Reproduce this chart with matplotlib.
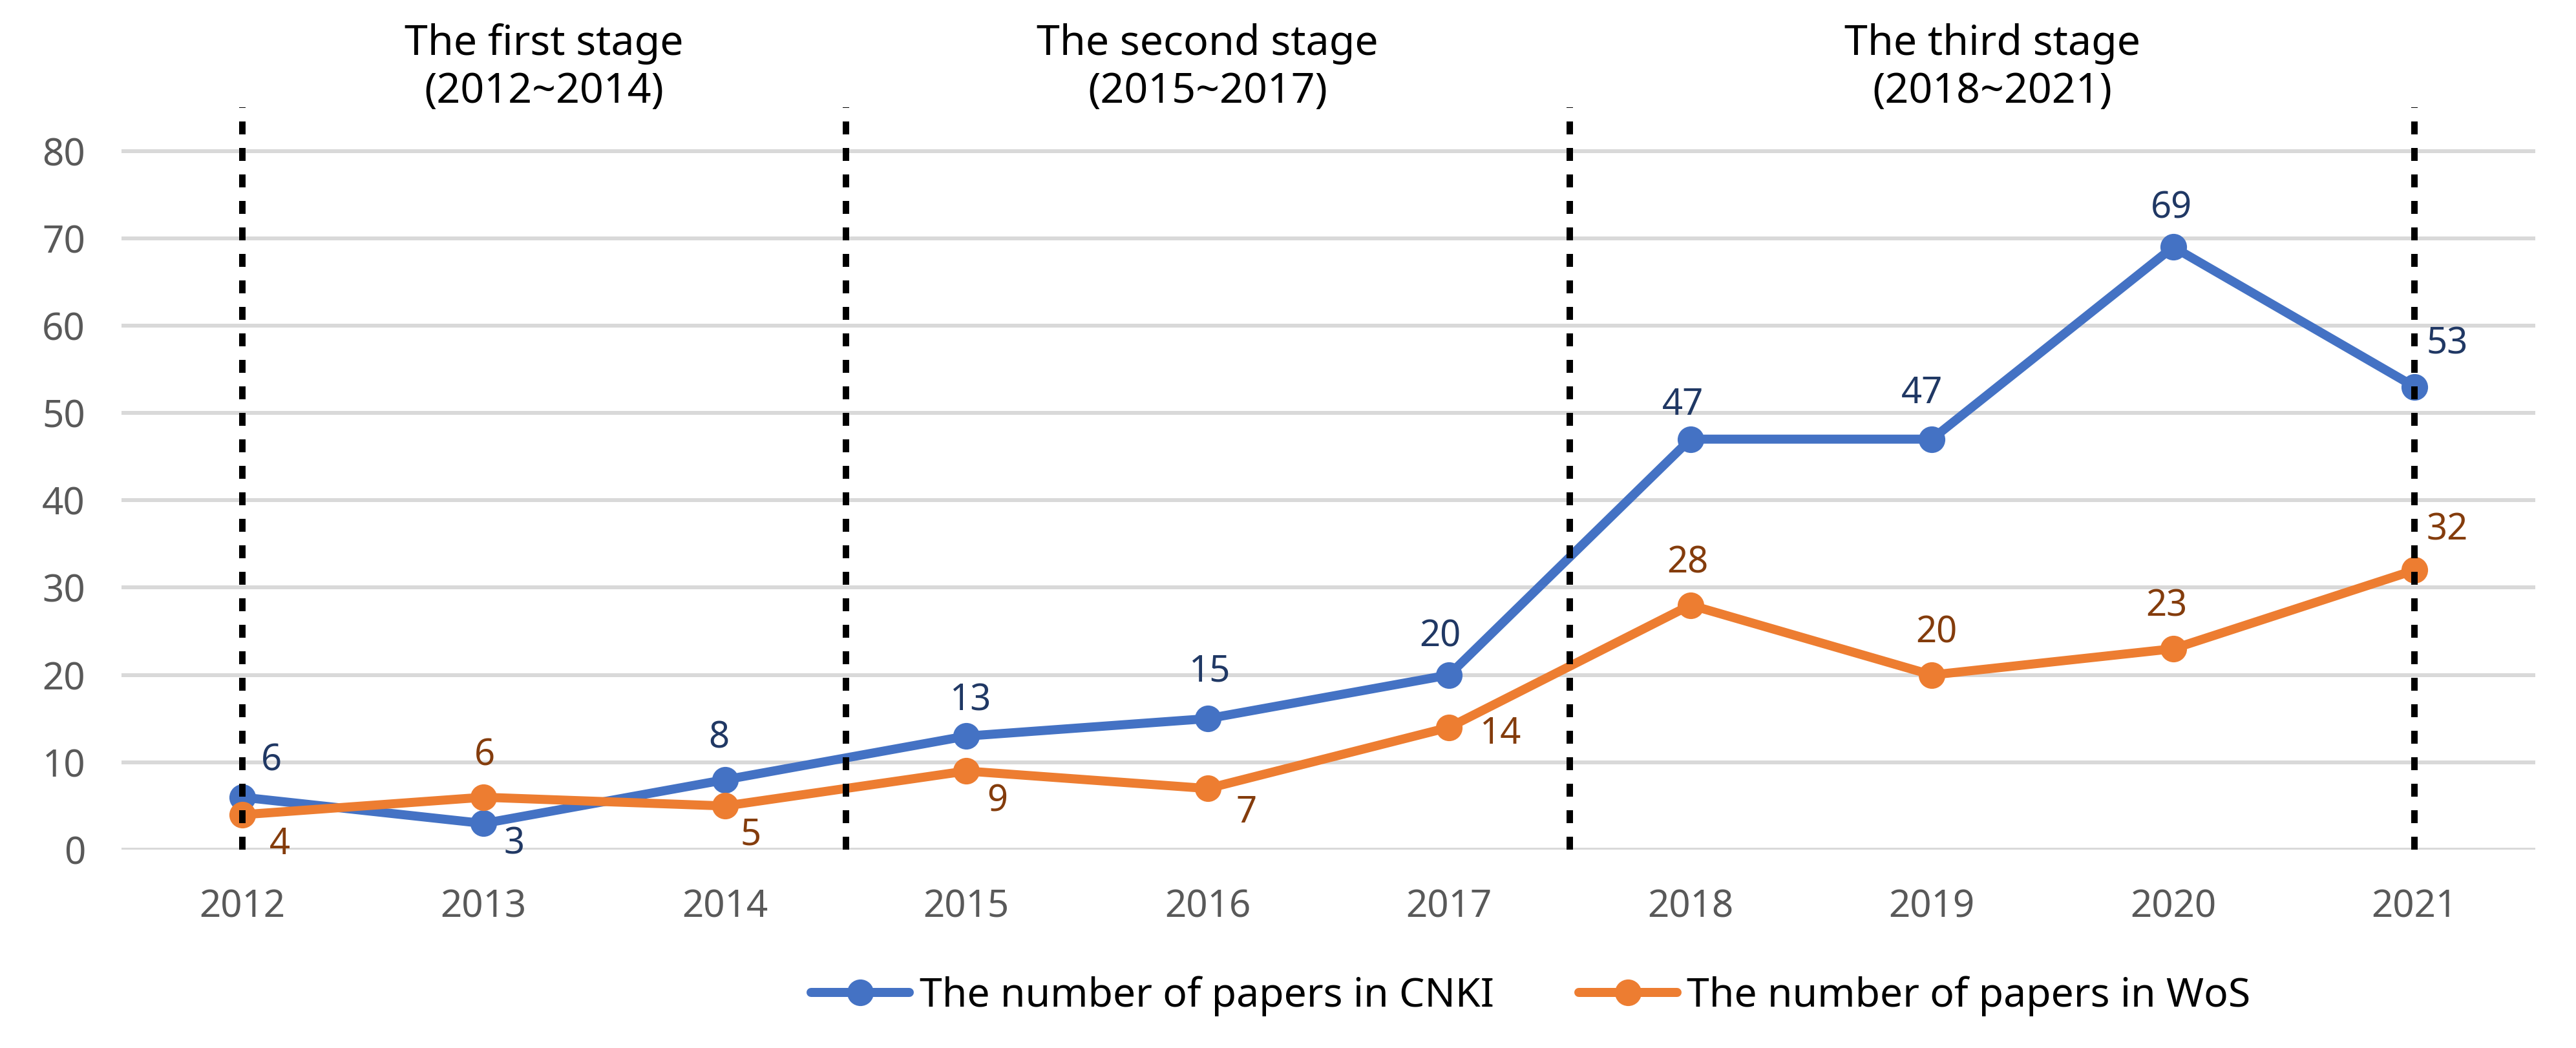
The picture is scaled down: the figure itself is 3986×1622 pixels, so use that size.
#!/usr/bin/env python3
"""Number of papers per year in CNKI and WoS, split into three stages."""

import matplotlib as mpl

mpl.use("Agg")

import matplotlib.pyplot as plt
from matplotlib.transforms import blended_transform_factory


YEARS = ["2012", "2013", "2014", "2015", "2016", "2017", "2018", "2019", "2020", "2021"]
CNKI_PAPERS = [6, 3, 8, 13, 15, 20, 47, 47, 69, 53]
WOS_PAPERS = [4, 6, 5, 9, 7, 14, 28, 20, 23, 32]
CNKI_LABEL = "The number of papers in CNKI"
WOS_LABEL = "The number of papers in WoS"
STAGE_TITLES = [
    "The first stage\n(2012~2014)",
    "The second stage\n(2015~2017)",
    "The third stage\n(2018~2021)",
]
Y_TICKS = [0, 10, 20, 30, 40, 50, 60, 70, 80]

# stage boundaries in category units (0 = 2012)
STAGE_EDGES = [0, 2.5, 5.5, 9]

# data label offsets in pixels (right, down)
CNKI_OFFSETS = [(45, -56), (47, 33), (-9, -64), (7, -54), (3, -72),
                (-14, -59), (-12, -52), (-15, -70), (-3, -59), (50, -66)]
WOS_OFFSETS = [(58, 47), (2, -64), (40, 46), (48, 48), (60, 38),
               (80, 11), (-4, -65), (7, -65), (-10, -65), (50, -61)]

DPI = 300
WIDTH_PX, HEIGHT_PX = 3986, 1622
BLUE = "#4472C4"
ORANGE = "#ED7D31"
BLUE_TEXT = "#203864"
ORANGE_TEXT = "#843C0C"
TICK_COLOR = "#595959"
GRID_COLOR = "#D9D9D9"


def px(value: float) -> float:
    """Pixels at 300 dpi to points."""
    return value * 72.0 / DPI


def main() -> None:
    plt.rcParams["font.family"] = ["Noto Sans", "DejaVu Sans"]

    fig = plt.figure(figsize=(WIDTH_PX / DPI, HEIGHT_PX / DPI), dpi=DPI)
    left, right = 188 / WIDTH_PX, 3923 / WIDTH_PX
    bottom, top = 1 - 1315 / HEIGHT_PX, 1 - 166 / HEIGHT_PX
    ax = fig.add_axes([left, bottom, right - left, top - bottom])

    x = list(range(len(YEARS)))
    line_kw = dict(lw=px(14), marker="o", ms=px(37), solid_capstyle="round", zorder=3)
    ax.plot(x, CNKI_PAPERS, color=BLUE, label=CNKI_LABEL, **line_kw)
    ax.plot(x, WOS_PAPERS, color=ORANGE, label=WOS_LABEL, **line_kw)

    for edge in STAGE_EDGES:
        ax.axvline(edge, color="black", lw=px(10), dashes=(2.0, 2.1), zorder=4)

    for values, offsets, color in (
        (CNKI_PAPERS, CNKI_OFFSETS, BLUE_TEXT),
        (WOS_PAPERS, WOS_OFFSETS, ORANGE_TEXT),
    ):
        for xi, value, (dx, dy) in zip(x, values, offsets):
            ax.annotate(
                f"{value}",
                (xi, value),
                xytext=(px(dx), -px(dy)),
                textcoords="offset points",
                ha="center",
                va="center",
                fontsize=13.5,
                color=color,
                zorder=5,
            )

    title_transform = blended_transform_factory(ax.transData, fig.transFigure)
    for (x0, x1), title in zip(zip(STAGE_EDGES[:-1], STAGE_EDGES[1:]), STAGE_TITLES):
        ax.text(
            (x0 + x1) / 2,
            1 - 105 / HEIGHT_PX,
            title,
            transform=title_transform,
            ha="center",
            va="center",
            fontsize=15.5,
            linespacing=1.2,
            color="black",
        )

    ax.set_xlim(-0.5, len(YEARS) - 0.5)
    ax.set_ylim(0, 85)
    ax.set_xticks(x)
    ax.set_xticklabels(YEARS)
    ax.set_yticks(Y_TICKS)
    ax.tick_params(axis="both", length=0, labelsize=14, labelcolor=TICK_COLOR)
    ax.tick_params(axis="y", pad=px(56))
    ax.tick_params(axis="x", pad=px(60))
    ax.grid(True, axis="y", color=GRID_COLOR, lw=px(6), zorder=0)
    ax.set_axisbelow(True)
    for spine in ax.spines.values():
        spine.set_visible(False)

    handles, labels = ax.get_legend_handles_labels()
    fig.legend(
        handles,
        labels,
        loc="center",
        bbox_to_anchor=(2369 / WIDTH_PX, 1 - 1542 / HEIGHT_PX),
        ncol=2,
        frameon=False,
        fontsize=15,
        handlelength=2.43,
        handletextpad=0.25,
        columnspacing=2.1,
    )

    fig.savefig("out.png", dpi=DPI)
    plt.close(fig)


if __name__ == "__main__":
    main()
